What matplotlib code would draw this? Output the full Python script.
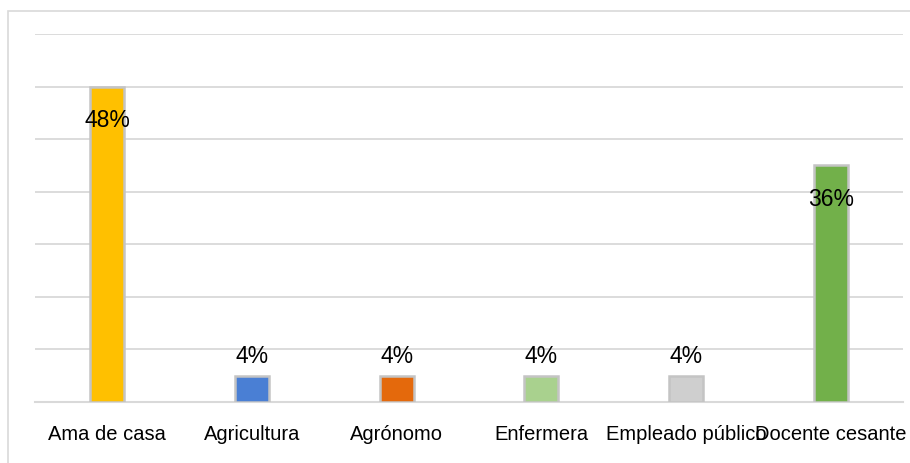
import matplotlib.pyplot as plt
from matplotlib.patches import Rectangle

categories = ['Ama de casa', 'Agricultura', 'Agrónomo', 'Enfermera', 'Empleado público', 'Docente cesante']
values = [48, 4, 4, 4, 4, 36]
colors = ['#FFC000', '#4A7FD4', '#E4690C', '#A9D18E', '#CFCFCF', '#72B04A']

plt.rcParams['font.family'] = ['Liberation Sans', 'DejaVu Sans']

fig = plt.figure(figsize=(9.1, 4.64), dpi=100)
fig.patches.append(Rectangle((8 / 910, -0.1), 1.2, 1 - 12 / 464 + 0.1, transform=fig.transFigure,
                             fill=False, edgecolor='#d9d9d9', linewidth=1.2))
ax = fig.add_axes([35 / 910, 1 - 403 / 464, 868 / 910, 368 / 464])

x = range(len(categories))
ax.bar(x, values, width=0.235, color=colors, edgecolor='#c4c4c4', linewidth=1.8, zorder=3)

for xi, v in zip(x, values):
    if v > 20:
        ax.text(xi, v - 5.0, f'{v}%', ha='center', va='center', fontsize=16.5, zorder=5)
    else:
        ax.text(xi, v + 3.0, f'{v}%', ha='center', va='center', fontsize=16.5, zorder=5)

ax.set_ylim(0, 56)
ax.set_xlim(-0.5, len(categories) - 0.5)
ax.set_yticks(range(8, 57, 8))
ax.yaxis.grid(True, color='#d9d9d9', linewidth=1.3)
ax.set_axisbelow(True)
ax.set_yticklabels([])
ax.tick_params(axis='y', length=0)
ax.set_xticks(list(x))
ax.set_xticklabels(categories, fontsize=14.5)
ax.tick_params(axis='x', length=0, pad=16)
for s in ['top', 'right', 'left']:
    ax.spines[s].set_visible(False)
ax.spines['bottom'].set_color('#d9d9d9')
ax.spines['bottom'].set_linewidth(1.5)

fig.savefig('out.png', dpi=100)
